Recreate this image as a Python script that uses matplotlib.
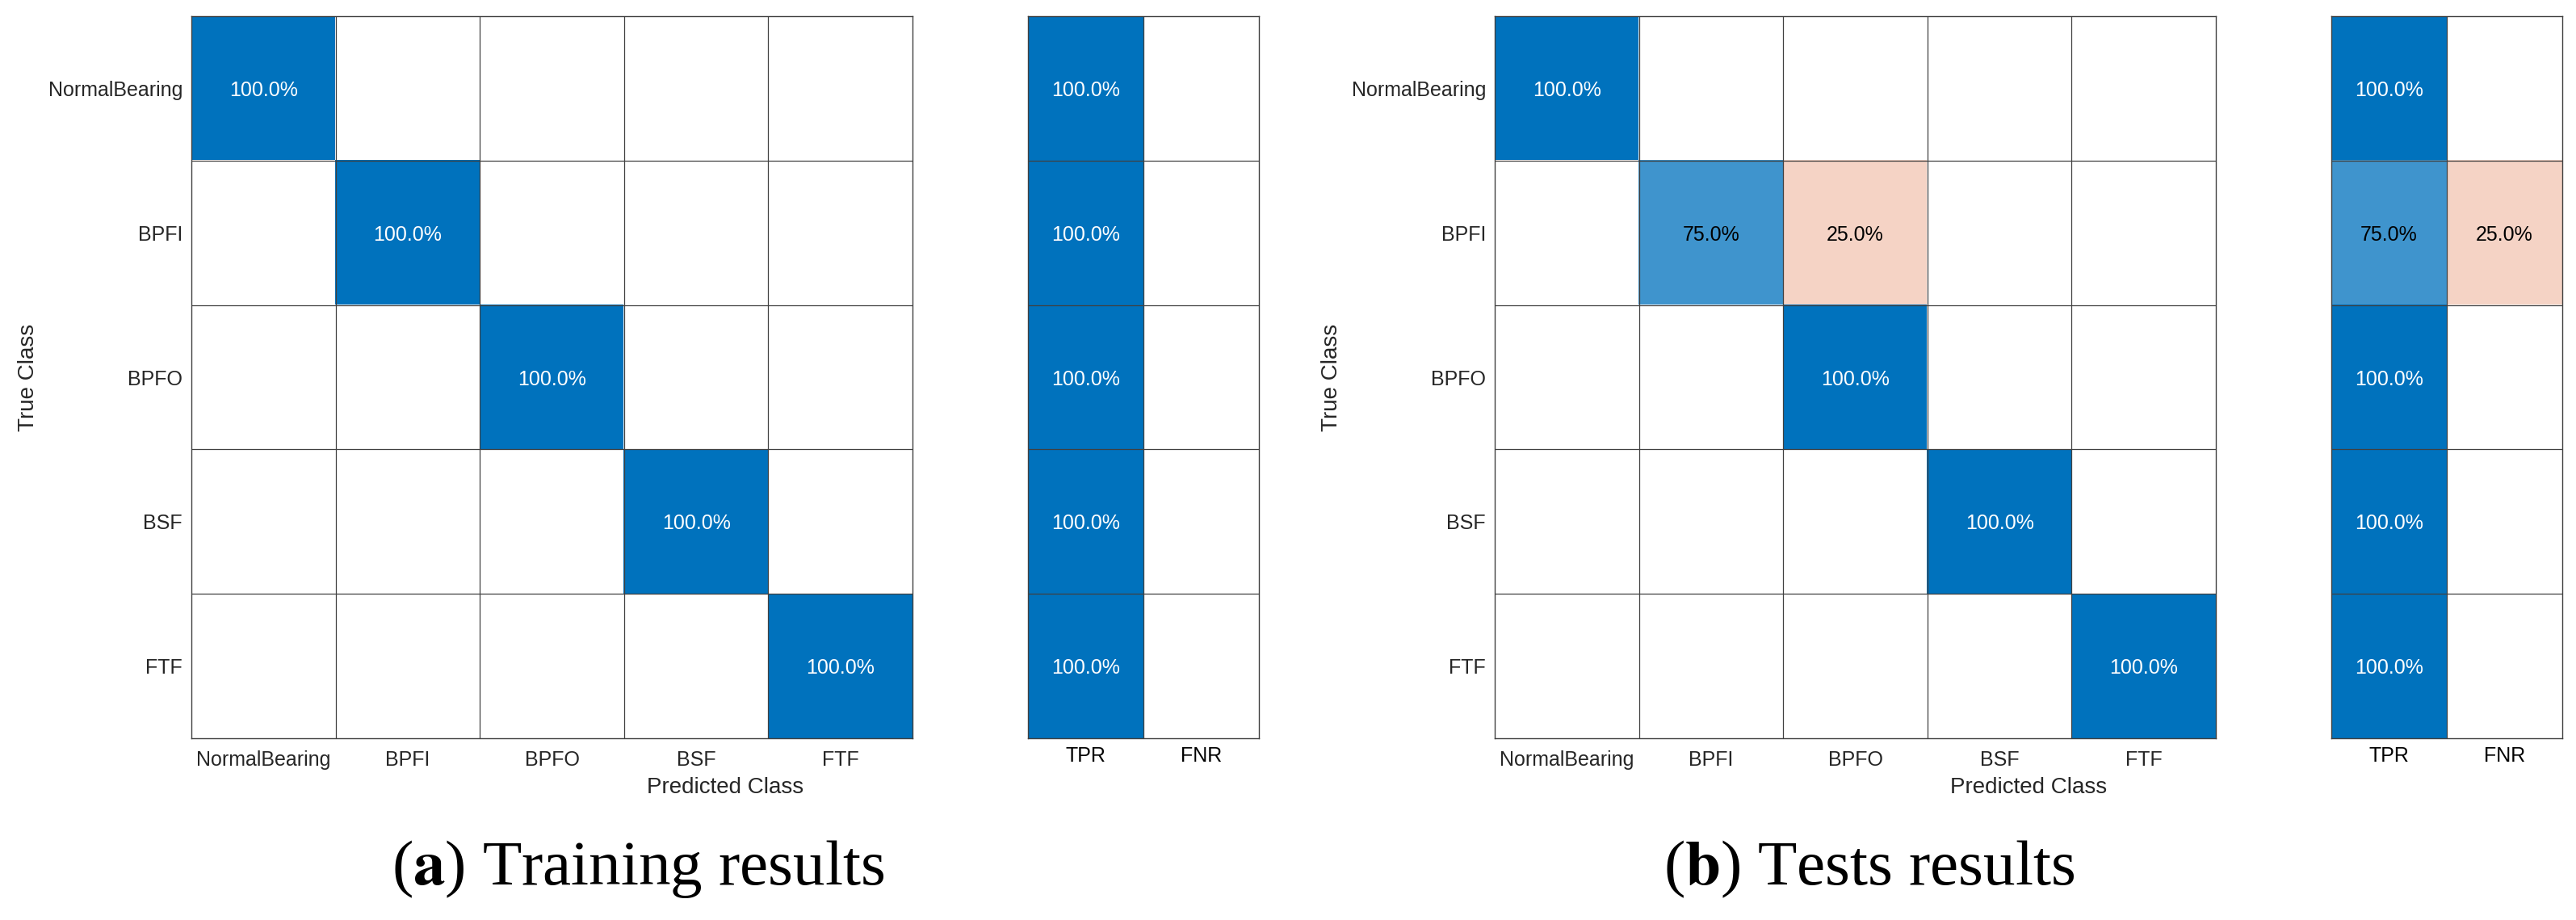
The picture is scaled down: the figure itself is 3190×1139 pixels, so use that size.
import matplotlib
matplotlib.use('Agg')
import matplotlib.pyplot as plt
import numpy as np
from matplotlib.colors import LinearSegmentedColormap

# Clases y matrices de confusion (porcentaje por fila)
classes = ['NormalBearing', 'BPFI', 'BPFO', 'BSF', 'FTF']
rate_labels = ['TPR', 'FNR']

train_cm = [[100, 0, 0, 0, 0],
            [0, 100, 0, 0, 0],
            [0, 0, 100, 0, 0],
            [0, 0, 0, 100, 0],
            [0, 0, 0, 0, 100]]
test_cm = [[100, 0, 0, 0, 0],
           [0, 75, 25, 0, 0],
           [0, 0, 100, 0, 0],
           [0, 0, 0, 100, 0],
           [0, 0, 0, 0, 100]]

train_tpr = [100, 100, 100, 100, 100]
train_fnr = [0, 0, 0, 0, 0]
test_tpr = [100, 75, 100, 100, 100]
test_fnr = [0, 25, 0, 0, 0]

captions = [('a', ' Training results'), ('b', ' Tests results')]

plt.rcParams['font.family'] = ['Liberation Sans', 'DejaVu Sans']

blue_map = LinearSegmentedColormap.from_list('diag', ['#ffffff', '#0072bd'])
red_map = LinearSegmentedColormap.from_list('off', ['#ffffff', '#d95319'])

W, H = 3190, 1139
fig = plt.figure(figsize=(W / 100, H / 100), dpi=100)
fig.patch.set_facecolor('white')

text_col = '#262626'
line_col = '#404040'


def px(x0, y0, x1, y1):
    return [x0 / W, 1 - y1 / H, (x1 - x0) / W, (y1 - y0) / H]


def draw_cells(ax, vals, good):
    # good: matriz booleana, True -> escala azul, False -> escala naranja
    vals = np.array(vals, dtype=float)
    rgb = np.ones(vals.shape + (3,))
    for i in range(vals.shape[0]):
        for j in range(vals.shape[1]):
            v = vals[i, j]
            if v > 0:
                cmap = blue_map if good[i][j] else red_map
                rgb[i, j] = cmap(v / 100)[:3]
                col = 'white' if v > 80 else 'black'
                ax.text(j, i, f'{v:.1f}%', ha='center', va='center_baseline',
                        fontsize=18, color=col)
    ax.imshow(rgb, aspect='auto', interpolation='nearest')
    n_r, n_c = vals.shape
    for k in range(1, n_r):
        ax.axhline(k - 0.5, color=line_col, lw=0.9)
    for k in range(1, n_c):
        ax.axvline(k - 0.5, color=line_col, lw=0.9)
    for s in ax.spines.values():
        s.set_color(line_col)
        s.set_linewidth(1.0)
    ax.tick_params(length=0, labelsize=18, labelcolor=text_col)


panels = [
    (train_cm, train_tpr, train_fnr, 237, 1273, 790),
    (test_cm, test_tpr, test_fnr, 1851, 2887, 2315),
]

for (cm, tpr, fnr, x_cm, x_rate, x_cap), (letter, cap) in zip(panels, captions):
    n = len(classes)
    ax = fig.add_axes(px(x_cm, 20, x_cm + 893, 914))
    good = [[i == j for j in range(n)] for i in range(n)]
    draw_cells(ax, cm, good)
    ax.set_xticks(range(n))
    ax.set_xticklabels(classes)
    ax.set_yticks(range(n))
    ax.set_yticklabels(classes)
    ax.tick_params(axis='x', pad=11)
    ax.tick_params(axis='y', pad=8)

    ax_r = fig.add_axes(px(x_rate, 20, x_rate + 286, 914))
    rates = np.column_stack([tpr, fnr])
    good_r = [[True, False] for _ in range(n)]
    draw_cells(ax_r, rates, good_r)
    ax_r.set_xticks(range(2))
    ax_r.set_xticklabels(rate_labels, color='black')
    ax_r.set_yticks([])
    ax_r.tick_params(axis='x', pad=7)

    # Etiquetas de ejes
    x_mid = (x_cm + x_rate + 286) / 2
    fig.text(x_mid / W, 1 - 975 / H, 'Predicted Class', ha='center', va='center',
             fontsize=20, color=text_col)
    fig.text((x_cm - 202) / W, 1 - 467 / H, 'True Class', ha='center', va='center',
             rotation=90, fontsize=20, color=text_col)

    # Subtitulo de la figura
    fig.text(x_cap / W, 1 - 1095 / H, f'($\\mathbf{{{letter}}}$){cap}', ha='center',
             va='baseline', fontsize=57, family='Liberation Serif', color='black',
             math_fontfamily='stix')

fig.savefig('out.png', dpi=100, facecolor='white')
